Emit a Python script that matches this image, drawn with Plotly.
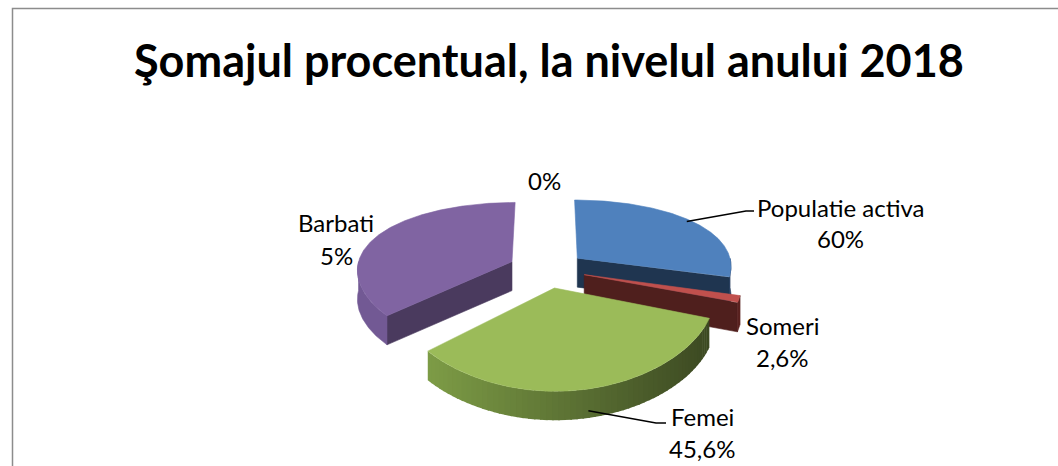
import math
import plotly.graph_objects as go

# ---------------- data ----------------
categories = ["Populatie activa", "Someri", "Femei", "Barbati", ""]
slice_values = [29.2, 1.4, 32.8, 36.6, 0.0]          # visible slice sizes (share of the pie)
label_values = ["60%", "2,6%", "45,6%", "5%", "0%"]   # texts printed in the data labels

# ---------------- styles ----------------
top_colors = ["#4F81BD", "#C0504D", "#9BBB59", "#8064A2", "#F79646"]
radial_colors = ["#1F3550", "#4F1F1D", "#3C4922", "#4A3A5E", "#7A4A20"]
side_colors = ["#22395A", "#5A2220", None, "#725994", "#8A5020"]
green_side_light = (0x7D, 0x9C, 0x46)
green_side_dark = (0x3C, 0x49, 0x22)

W, H = 1058, 466
CX, CY = 547, 269        # pie centre (screen px)
A, B = 155, 73.7         # horizontal / vertical radius scale
PX, PY = 0.1, 0.2        # perspective factors
EXPLODE = 0.25
THICK = 29
FONT = "Lato"
LABEL_SIZE = 24

def proj(X, Y, z=0.0):
    sx = CX + A * X / (1 + PX * Y)
    sy = CY - B * Y / (1 + PY * Y) + z
    return sx, sy

total = sum(slice_values)
fig = go.Figure()

def poly(xs, ys, color, lw=0.6):
    fig.add_trace(go.Scatter(x=xs, y=ys, mode="lines", fill="toself",
                             fillcolor=color, line=dict(color=color, width=lw),
                             hoverinfo="skip", showlegend=False))

slices = []
cum = 0.0
for i, v in enumerate(slice_values):
    a1 = 90 - cum / total * 360
    a2 = a1 - v / total * 360
    cum += v
    mid = (a1 + a2) / 2
    ox = EXPLODE * math.cos(math.radians(mid))
    oy = EXPLODE * math.sin(math.radians(mid))
    slices.append(dict(i=i, a1=a1, a2=a2, mid=mid, ox=ox, oy=oy, v=v))

def rim(s, ang, z=0.0, r=1.0):
    t = math.radians(ang)
    return proj(s["ox"] + r * math.cos(t), s["oy"] + r * math.sin(t), z)

def lerp(c1, c2, t):
    t = max(0.0, min(1.0, t))
    return "rgb(%d,%d,%d)" % tuple(int(round(c1[k] + (c2[k] - c1[k]) * t)) for k in range(3))

draw_order = sorted([s for s in slices if s["v"] > 0], key=lambda s: -s["oy"])
for s in draw_order:
    i = s["i"]
    a1, a2 = s["a1"], s["a2"]
    apex_top = proj(s["ox"], s["oy"])
    apex_bot = proj(s["ox"], s["oy"], THICK)
    # radial faces
    for ang, vis in ((a1, math.cos(math.radians(a1)) < -1e-6),
                     (a2, math.cos(math.radians(a2)) > 1e-6)):
        if vis:
            p1 = rim(s, ang)
            p2 = rim(s, ang, THICK)
            poly([apex_top[0], p1[0], p2[0], apex_bot[0], apex_top[0]],
                 [apex_top[1], p1[1], p2[1], apex_bot[1], apex_top[1]], radial_colors[i])
    # curved side (front part only)
    n = 240
    angs = [a2 + (a1 - a2) * k / n for k in range(n + 1)]
    vis = [math.sin(math.radians(a)) < 0 for a in angs]
    runs, cur = [], []
    for a, ok in zip(angs, vis):
        if ok:
            cur.append(a)
        elif cur:
            runs.append(cur); cur = []
    if cur:
        runs.append(cur)
    for run in runs:
        if len(run) < 2:
            continue
        if side_colors[i] is None:
            xs_all = [rim(s, a)[0] for a in run]
            xmin, xmax = min(xs_all), max(xs_all)
            step = 4
            for k in range(0, len(run) - 1, step):
                seg = run[k:k + step + 2]
                top = [rim(s, a) for a in seg]
                bot = [rim(s, a, THICK) for a in reversed(seg)]
                xm = sum(p[0] for p in top) / len(top)
                col = lerp(green_side_light, green_side_dark, (xm - xmin) / (xmax - xmin))
                pts = top + bot + [top[0]]
                poly([p[0] for p in pts], [p[1] for p in pts], col, lw=0)
        else:
            top = [rim(s, a) for a in run]
            bot = [rim(s, a, THICK) for a in reversed(run)]
            pts = top + bot + [top[0]]
            poly([p[0] for p in pts], [p[1] for p in pts], side_colors[i])
    # top face
    pts = [apex_top] + [rim(s, a) for a in angs] + [apex_top]
    poly([p[0] for p in pts], [p[1] for p in pts], top_colors[i])

# ---------------- data labels ----------------
# (line1 centre, line2 centre, leader elbow/end) in screen px
label_layout = {
    0: dict(l1=(840, 207), l2=(840, 238), leader=((746, 211), (754, 211)), r=0.97, z=0),
    1: dict(l1=(782, 325), l2=(782, 357), leader=None),
    2: dict(l1=(702, 416), l2=(702, 448), leader=((656, 423), (666, 423)), r=1.0, z=THICK * 0.75),
    3: dict(l1=(336, 222), l2=(336, 255), leader=None),
    4: dict(l1=None, l2=(544, 180), leader=None),
}
for s in slices:
    i = s["i"]
    L = label_layout[i]
    if L["l1"] is not None and categories[i]:
        fig.add_annotation(x=L["l1"][0], y=L["l1"][1], text=categories[i], showarrow=False,
                           font=dict(family=FONT, size=LABEL_SIZE, color="#000000"),
                           xanchor="center", yanchor="middle")
    fig.add_annotation(x=L["l2"][0], y=L["l2"][1], text=label_values[i], showarrow=False,
                       font=dict(family=FONT, size=LABEL_SIZE, color="#000000"),
                       xanchor="center", yanchor="middle")
    if L["leader"] is not None:
        st = rim(s, s["mid"], L["z"], L["r"])
        (ex, ey), (fx, fy) = L["leader"]
        fig.add_trace(go.Scatter(x=[st[0], ex, fx], y=[st[1], ey, fy], mode="lines",
                                 line=dict(color="#000000", width=1.5),
                                 hoverinfo="skip", showlegend=False))

# title
fig.add_annotation(x=549, y=60, text="<b>Şomajul procentual, la nivelul anului 2018</b>",
                   showarrow=False, font=dict(family=FONT, size=45, color="#000000"),
                   xanchor="center", yanchor="middle")

# chart-area border
fig.add_shape(type="rect", x0=12.5, y0=8.5, x1=W + 20, y1=H + 20,
              line=dict(color="#8C8C8C", width=1.5), layer="below")

fig.update_layout(
    width=W, height=H, margin=dict(l=0, r=0, t=0, b=0),
    paper_bgcolor="white", plot_bgcolor="white",
    xaxis=dict(range=[0, W], visible=False, fixedrange=True),
    yaxis=dict(range=[H, 0], visible=False, fixedrange=True),
    showlegend=False,
)
fig.write_html("out.html", config={"displayModeBar": False},
               post_script="document.body.style.margin='0';document.body.style.overflow='hidden';")
